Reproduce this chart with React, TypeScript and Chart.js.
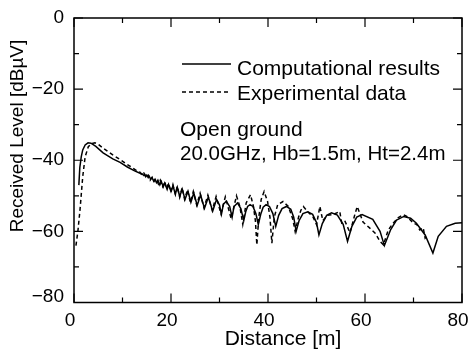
import React, { useEffect, useRef } from 'react';
import { Chart, registerables } from 'chart.js';

Chart.register(...registerables);

// ---- data ----
const seriesLabels = ['Computational results', 'Experimental data'];
const annotationLines = ['Open ground', '20.0GHz, Hb=1.5m, Ht=2.4m'];
const xTitle = 'Distance [m]';
const yTitle = 'Received Level [dB\u00B5V]';

const xTickValues = [0, 20, 40, 60, 80];
const xMinorTicks = [10, 30, 50, 70];
const yTickValues = [0, -20, -40, -60];
const yBottomTick = [-80];
const yMinorTicks = [-10, -30, -50, -70];

const compDistance = [
  1.0, 1.2, 1.5, 1.8, 2.3, 2.9, 3.5, 4.5, 6.0, 8.0, 9.5, 11.0, 12.5, 13.5,
  14.0, 14.4, 14.6, 14.8, 15.0, 15.3, 15.5, 15.8, 16.1, 16.4, 16.7, 17.0, 17.3, 17.7,
  18.0, 18.4, 18.7, 19.2, 19.5, 20.0, 20.4, 20.9, 21.3, 21.8, 22.3, 22.9, 23.5, 24.1,
  24.7, 25.4, 26.1, 26.9, 27.7, 28.6, 29.4, 30.0, 30.4, 30.8, 31.4, 32.1, 32.6, 33.0,
  33.7, 34.4, 35.0, 35.4, 35.8, 36.3, 36.9, 37.5, 38.0, 38.5, 39.0, 39.6, 40.3, 41.0,
  41.6, 42.2, 42.9, 43.8, 44.7, 45.3, 45.8, 46.4, 47.2, 48.2, 49.2, 50.0, 50.5, 51.2,
  52.1, 53.1, 54.3, 55.5, 56.4, 57.3, 58.3, 59.4, 61.6, 63.1, 64.0, 65.3, 66.5, 68.0,
  69.4, 70.6, 72.4, 74.0, 75.1, 76.8, 78.6, 80.0,
];
const compLevel = [
  -47.0, -42.0, -39.0, -37.1, -35.7, -35.1, -35.2, -36.1, -37.9, -39.6, -40.6, -41.9, -43.0, -43.6,
  -43.8, -44.3, -44.0, -44.6, -44.2, -44.9, -44.5, -45.3, -44.9, -45.8, -45.3, -46.3, -45.6, -46.9,
  -46.0, -47.5, -46.4, -48.2, -46.8, -48.8, -47.2, -49.5, -47.6, -50.2, -48.1, -51.0, -48.7, -51.8,
  -49.2, -52.7, -49.8, -53.5, -50.4, -54.3, -51.0, -52.6, -55.2, -52.4, -51.5, -53.0, -56.0, -53.0,
  -52.0, -53.6, -57.0, -54.5, -53.0, -52.5, -53.0, -55.0, -58.1, -55.2, -53.2, -52.5, -53.0, -55.0,
  -58.6, -55.5, -53.6, -53.0, -53.8, -56.0, -60.0, -57.0, -55.0, -54.5, -55.2, -57.5, -61.0, -57.8,
  -55.5, -54.8, -55.4, -58.0, -62.8, -58.6, -56.0, -55.3, -56.6, -60.0, -64.0, -59.5, -56.8, -55.8,
  -56.3, -57.7, -61.0, -66.1, -61.4, -58.6, -57.7, -57.6,
];

const expDistance = [
  0.4, 0.8, 1.24, 1.8, 2.3, 2.95, 3.6, 4.3, 5.0, 6.0, 8.0, 9.5, 11.0, 12.9, 13.5,
  14.0, 14.4, 14.9, 15.3, 15.7, 16.1, 16.5, 16.9, 17.4, 17.8, 18.3, 18.7, 19.1, 19.5,
  20.0, 20.4, 20.9, 21.3, 21.8, 22.3, 22.8, 23.4, 24.0, 24.6, 25.3, 26.0, 26.8, 27.6,
  28.5, 29.3, 30.3, 31.2, 32.4, 33.5, 34.2, 34.8, 35.5, 36.4, 37.0, 37.4, 37.7, 38.1,
  38.6, 39.2, 39.9, 40.4, 40.8, 41.3, 42.0, 43.1, 44.2, 45.1, 45.6, 46.3, 46.8, 47.3,
  48.2, 49.3, 50.0, 50.7, 51.3, 52.2, 53.4, 54.8, 55.2, 55.9, 56.9, 57.9, 58.4, 59.6,
  61.0, 62.1, 63.1, 63.8, 64.8, 65.8, 66.8, 67.9, 68.6, 70.0, 70.7, 71.3, 72.0, 72.4, 72.7,
];
const expLevel = [
  -64.0, -60.0, -53.9, -44.6, -39.0, -36.2, -35.3, -35.1, -35.5, -36.6, -38.5, -39.8, -41.2, -42.9, -43.2,
  -44.2, -43.6, -44.9, -44.2, -45.6, -44.8, -46.0, -45.2, -46.7, -45.6, -47.4, -46.0, -48.0, -46.5,
  -48.9, -46.9, -49.6, -47.3, -50.4, -47.7, -51.0, -48.3, -51.9, -48.8, -52.6, -49.3, -53.4, -49.8,
  -54.1, -50.2, -55.0, -50.3, -56.4, -50.0, -53.0, -58.0, -52.0, -49.7, -53.0, -57.0, -63.8, -56.0,
  -51.0, -48.8, -51.5, -56.0, -63.3, -56.0, -52.5, -51.6, -53.0, -56.5, -60.0, -56.0, -54.0, -53.0,
  -54.5, -56.0, -58.1, -53.0, -57.0, -55.5, -55.3, -54.4, -57.7, -57.2, -60.4, -55.3, -53.0, -57.4,
  -59.1, -60.5, -62.8, -63.8, -59.6, -57.7, -56.2, -55.3, -55.8, -57.7, -58.1, -59.6, -59.0, -61.9, -61.4,
];

const FONT = '"Liberation Sans", Arial, sans-serif';

const toPoints = (xs: number[], ys: number[]) => xs.map((x, i) => ({ x, y: ys[i] }));
const fmtY = (v: any) => (v < 0 ? '\u2212' + Math.abs(v) : String(v));
const zeroPad = (s: any) => {
  s.paddingLeft = 0;
  s.paddingRight = 0;
  s.paddingTop = 0;
  s.paddingBottom = 0;
};

const overlayPlugin = {
  id: 'overlay',
  afterLayout(chart: any) {
    // widen the clip area of the zero-width axis that carries the bottom label
    const s = chart.scales.yBottom;
    if (s) s.left = 0;
  },
  afterDraw(chart: any) {
    const { ctx, chartArea: a, scales } = chart;
    const xs = scales.x;
    const ys = scales.y;
    ctx.save();
    ctx.strokeStyle = '#000';
    ctx.lineWidth = 1.5;
    ctx.strokeRect(a.left, a.top, a.right - a.left, a.bottom - a.top);

    const major = 9;
    const minor = 5;
    ctx.lineWidth = 1.2;
    ctx.beginPath();
    const xTick = (v: number, len: number) => {
      const px = xs.getPixelForValue(v);
      ctx.moveTo(px, a.bottom);
      ctx.lineTo(px, a.bottom - len);
      ctx.moveTo(px, a.top);
      ctx.lineTo(px, a.top + len);
    };
    const yTick = (v: number, len: number) => {
      const py = ys.getPixelForValue(v);
      ctx.moveTo(a.left, py);
      ctx.lineTo(a.left + len, py);
      ctx.moveTo(a.right, py);
      ctx.lineTo(a.right - len, py);
    };
    xTickValues.forEach((v) => xTick(v, major));
    xMinorTicks.forEach((v) => xTick(v, minor));
    [...yTickValues, ...yBottomTick].forEach((v) => yTick(v, major));
    yMinorTicks.forEach((v) => yTick(v, minor));
    ctx.stroke();

    // legend
    ctx.fillStyle = '#000';
    ctx.font = `21px ${FONT}`;
    ctx.textAlign = 'left';
    ctx.textBaseline = 'alphabetic';
    const legendRows = [
      { lineY: 64, textY: 75 },
      { lineY: 92, textY: 100 },
    ];
    chart.data.datasets.forEach((ds: any, i: number) => {
      const row = legendRows[i];
      ctx.save();
      ctx.lineWidth = 1.5;
      ctx.setLineDash(ds.borderDash || []);
      ctx.beginPath();
      ctx.moveTo(182, row.lineY);
      ctx.lineTo(231, row.lineY);
      ctx.stroke();
      ctx.restore();
      ctx.fillText(ds.label, 237, row.textY);
    });
    ctx.fillText(annotationLines[0], 180, 136);
    ctx.font = `20.5px ${FONT}`;
    ctx.fillText(annotationLines[1], 180, 160);

    // axis titles
    ctx.font = `21px ${FONT}`;
    ctx.textAlign = 'center';
    ctx.fillText(xTitle, 283, 345);
    ctx.save();
    ctx.translate(23, 136);
    ctx.rotate(-Math.PI / 2);
    ctx.font = `19px ${FONT}`;
    ctx.fillText(yTitle, 0, 0);
    ctx.restore();
    ctx.restore();
  },
};

export default function App() {
  const ref = useRef<HTMLCanvasElement | null>(null);

  useEffect(() => {
    if (!ref.current) return;
    const yCommon = {
      type: 'linear',
      min: -80,
      max: 0,
      position: 'left',
      grid: { display: false, drawTicks: false },
      border: { display: false },
    };
    const chart = new Chart(ref.current, {
      type: 'scatter',
      data: {
        datasets: [
          {
            label: seriesLabels[0],
            data: toPoints(compDistance, compLevel),
            showLine: true,
            borderColor: '#000',
            backgroundColor: '#000',
            borderWidth: 1.5,
            pointRadius: 0,
            tension: 0,
          },
          {
            label: seriesLabels[1],
            data: toPoints(expDistance, expLevel),
            showLine: true,
            borderColor: '#000',
            backgroundColor: '#000',
            borderWidth: 1.5,
            borderDash: [4, 3],
            pointRadius: 0,
            tension: 0,
          },
        ],
      },
      options: {
        animation: false,
        responsive: false,
        devicePixelRatio: 1,
        layout: { padding: { top: 18, right: 7, left: 0, bottom: 0 } },
        plugins: {
          legend: { display: false },
          tooltip: { enabled: false },
        },
        scales: {
          x: {
            type: 'linear',
            min: 0,
            max: 80,
            grid: { display: false, drawTicks: false },
            border: { display: false },
            afterBuildTicks: (s: any) => {
              s.ticks = xTickValues.map((v) => ({ value: v }));
            },
            afterFit: (s: any) => {
              s.height = 47.5;
              zeroPad(s);
            },
            ticks: {
              autoSkip: false,
              maxRotation: 0,
              padding: 7,
              labelOffset: -4,
              color: '#000',
              font: { family: FONT, size: 19 },
              callback: (v: any) => String(v),
            },
          },
          y: {
            ...yCommon,
            weight: 1,
            afterBuildTicks: (s: any) => {
              s.ticks = yTickValues.map((v) => ({ value: v }));
            },
            afterFit: (s: any) => {
              s.width = 74;
              zeroPad(s);
            },
            ticks: {
              autoSkip: false,
              padding: 10,
              color: '#000',
              font: { family: FONT, size: 19 },
              callback: fmtY,
            },
          },
          yBottom: {
            ...yCommon,
            weight: 0,
            afterBuildTicks: (s: any) => {
              s.ticks = yBottomTick.map((v) => ({ value: v }));
            },
            afterFit: (s: any) => {
              s.width = 0;
              zeroPad(s);
            },
            ticks: {
              autoSkip: false,
              padding: 10,
              labelOffset: -6,
              color: '#000',
              font: { family: FONT, size: 19 },
              callback: fmtY,
            },
          },
        },
      },
      plugins: [overlayPlugin],
    } as any);
    return () => chart.destroy();
  }, []);

  return (
    <div style={{ position: 'absolute', left: 0, top: 0, width: 469, height: 350, background: '#fff' }}>
      <canvas ref={ref} width={469} height={350} style={{ display: 'block' }} />
    </div>
  );
}
